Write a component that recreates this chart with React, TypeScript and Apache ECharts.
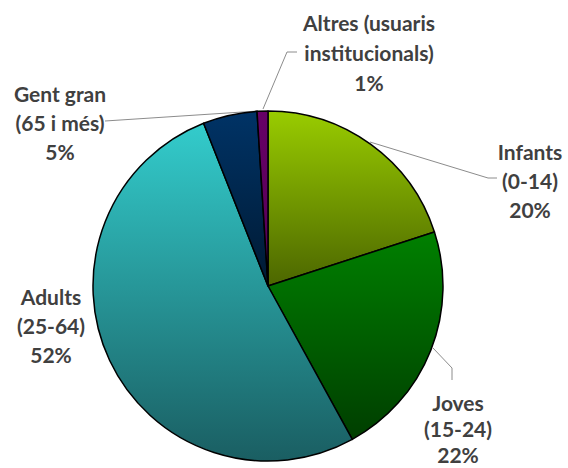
import React, { useEffect, useRef } from "react";
import * as echarts from "echarts";

const categories = [
  "Infants\n(0-14)",
  "Joves\n(15-24)",
  "Adults\n(25-64)",
  "Gent gran\n(65 i més)",
  "Altres (usuaris\ninstitucionals)",
];
const values = [20, 22, 52, 5, 1];
const gradientTop = ["#99cc00", "#008000", "#33cccc", "#003366", "#660066"];
const gradientBottom = ["#4c6600", "#003e00", "#1a5e62", "#001a33", "#550055"];

// label anchor (centre), line height and leader line points, per slice
const labelPos: [number, number][] = [
  [530, 180],
  [458, 428],
  [51, 325],
  [60, 122],
  [369, 52],
];
const labelLineHeight = [29, 26, 29, 29, 30];
const leaderLines: ([number, number][] | null)[] = [
  [[370, 142], [488, 178], [497, 178]],
  [[433, 348], [452, 368], [452, 380]],
  null,
  [[258, 111], [105, 121]],
  [[263, 109], [287, 52], [297, 52]],
];

export default function App() {
  const ref = useRef<HTMLDivElement>(null);
  useEffect(() => {
    if (!ref.current) return;
    const chart = echarts.init(ref.current, null, { renderer: "svg" });
    chart.setOption({
      animation: false,
      backgroundColor: "#ffffff",
      series: [
        {
          type: "pie",
          center: [268, 286],
          radius: 175,
          startAngle: 90,
          clockwise: true,
          data: categories.map((name, i) => ({
            name,
            value: values[i],
            itemStyle: {
              color: new echarts.graphic.LinearGradient(0, 0, 0, 1, [
                { offset: 0, color: gradientTop[i] },
                { offset: 1, color: gradientBottom[i] },
              ]),
            },
            label: { lineHeight: labelLineHeight[i] },
            labelLine: { show: !!leaderLines[i] },
          })),
          itemStyle: { borderColor: "#000000", borderWidth: 1.5 },
          label: {
            show: true,
            formatter: (p: any) => `${p.name}\n${p.value}%`,
            fontFamily: "Lato",
            fontWeight: "bold",
            fontSize: 21,
            color: "#404040",
            align: "center",
            overflow: "none",
          },
          labelLine: {
            show: true,
            lineStyle: { color: "#8c8c8c", width: 1 },
          },
          labelLayout: (params: any) => {
            const i = params.dataIndex;
            const out: any = {
              x: labelPos[i][0],
              y: labelPos[i][1],
              align: "center",
              verticalAlign: "middle",
            };
            if (leaderLines[i]) out.labelLinePoints = leaderLines[i];
            return out;
          },
        },
      ],
    });
    return () => chart.dispose();
  }, []);
  return (
    <div
      ref={ref}
      style={{ position: "fixed", left: 0, top: 0, width: 568, height: 468 }}
    />
  );
}
